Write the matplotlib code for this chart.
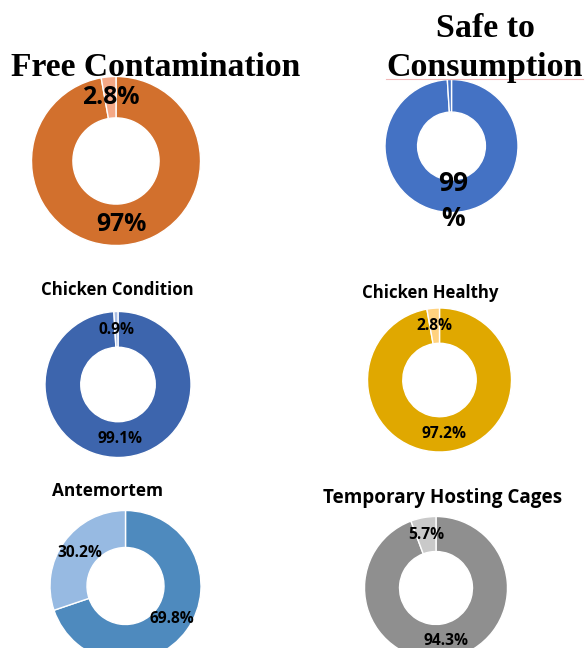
import matplotlib
matplotlib.use("Agg")
import matplotlib.pyplot as plt

# ---------------- data ----------------
free_title = "Free Contamination"
free_values = [97, 2.8]
free_labels = ["97%", "2.8%"]

safe_title = "Safe to\nConsumption"
safe_values = [99, 1]
safe_labels = ["99\n%", ""]

cond_title = "Chicken Condition"
cond_values = [99.1, 0.9]
cond_labels = ["99.1%", "0.9%"]

health_title = "Chicken Healthy"
health_values = [97.2, 2.8]
health_labels = ["97.2%", "2.8%"]

ante_title = "Antemortem"
ante_values = [69.8, 30.2]
ante_labels = ["69.8%", "30.2%"]

cage_title = "Temporary Hosting Cages"
cage_values = [94.3, 5.7]
cage_labels = ["94.3%", "5.7%"]

# ---------------- layout / style ----------------
W, H = 586, 648
SERIF = ["Liberation Serif", "DejaVu Serif"]
SANS = ["Open Sans", "DejaVu Sans"]

charts = [
    dict(values=free_values, labels=free_labels, title=free_title,
         colors=["#D2702D", "#F4A886"], c=(116, 161), r=84.5,
         tpos=(156, 68), tfont=SERIF, tsize=24.2, lsize=17.8, ldist=0.76),
    dict(values=safe_values, labels=safe_labels, title=safe_title,
         colors=["#4472C4", "#4472C4"], c=(451.5, 146), r=66.5,
         tpos=(485, 48), tfont=SERIF, tsize=24.5, lsize=19, ldist=0.83),
    dict(values=cond_values, labels=cond_labels, title=cond_title,
         colors=["#3D65AD", "#A9BDE3"], c=(118, 384.5), r=73,
         tpos=(117, 290), tfont=SANS, tsize=12.1, lsize=11.2),
    dict(values=health_values, labels=health_labels, title=health_title,
         colors=["#E0A800", "#FFD27F"], c=(439.5, 380), r=72,
         tpos=(430, 293), tfont=SANS, tsize=12.1, lsize=11.2),
    dict(values=ante_values, labels=ante_labels, title=ante_title,
         colors=["#4E8ABE", "#97BAE2"], c=(125.5, 586), r=75.5,
         tpos=(108, 491), tfont=SANS, tsize=12.4, lsize=11.2),
    dict(values=cage_values, labels=cage_labels, title=cage_title,
         colors=["#8F8F8F", "#C9C9C9"], c=(436, 588), r=71.5,
         tpos=(442.5, 498), tfont=SANS, tsize=13.6, lsize=11.2),
]

fig = plt.figure(figsize=(W / 100, H / 100), dpi=100)
ax = fig.add_axes([0, 0, 1, 1])

for ch in charts:
    cx, cy = ch["c"]
    r = ch["r"]
    wedges, texts = ax.pie(
        ch["values"], colors=ch["colors"], labels=ch["labels"],
        labeldistance=ch.get("ldist", 0.75), startangle=90, counterclock=False,
        center=(cx, H - cy), radius=r,
        wedgeprops=dict(width=r * 0.49, edgecolor="white", linewidth=1.0),
        textprops=dict(family=SANS, fontweight="bold", fontsize=ch["lsize"],
                       color="black"),
    )
    for t in texts:
        t.set_ha("center")
        t.set_va("center")
        t.set_linespacing(1.35)
    ax.text(ch["tpos"][0], H - ch["tpos"][1], ch["title"], ha="center",
            va="center", family=ch["tfont"], fontweight="bold",
            fontsize=ch["tsize"], color="black", linespacing=1.3)

# faint spell-check underline under "Consumption"
ax.plot([386, 583], [H - 79, H - 79], color="#F2B8B8", linewidth=0.8)

ax.set_xlim(0, W)
ax.set_ylim(0, H)
ax.set_aspect("equal")
ax.axis("off")

fig.savefig("out.png", dpi=100, facecolor="white")
